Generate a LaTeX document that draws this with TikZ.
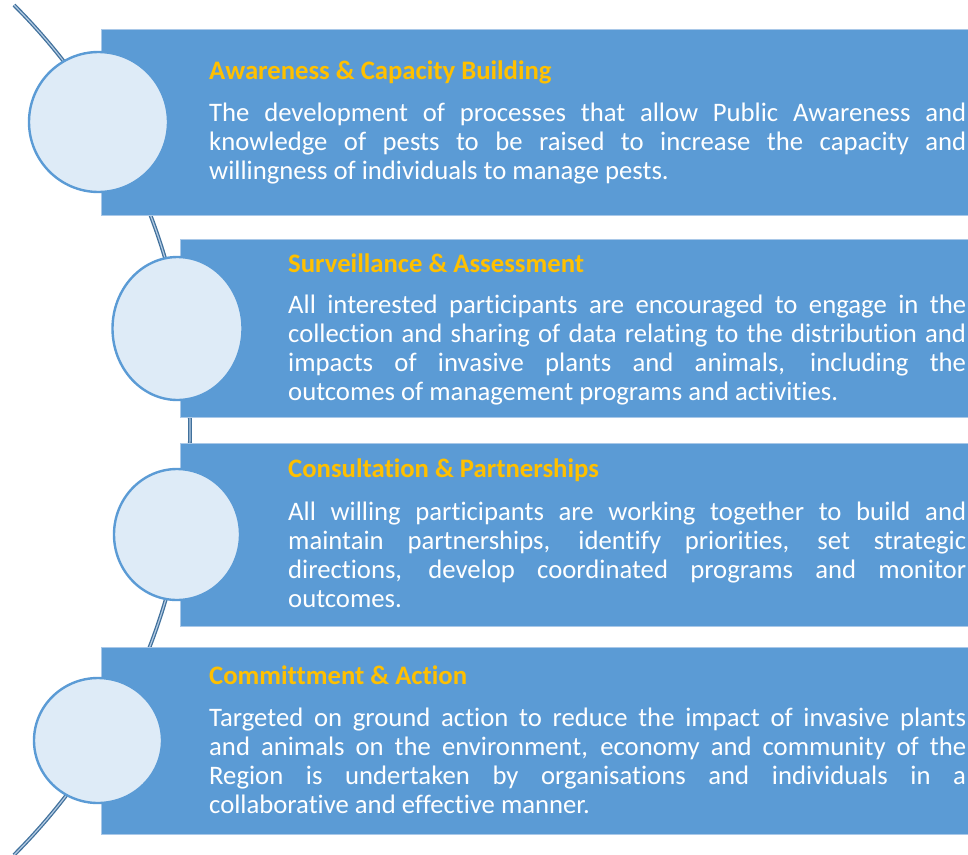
\documentclass[tikz,border=0pt]{standalone}
\usepackage{fontspec}
\setmainfont{Carlito}[Ligatures=NoCommon]
\usetikzlibrary{shapes.geometric}

\definecolor{panelblue}{HTML}{5B9BD5}
\definecolor{paneledge}{HTML}{A9C8E8}
\definecolor{discfill}{HTML}{DEEBF7}
\definecolor{spineblue}{HTML}{41719C}
\definecolor{spinemid}{HTML}{B4CBE3}
\definecolor{gold}{HTML}{FFC000}

\tikzset{
  spine/.style={draw=spineblue, line width=1.3pt, double=spinemid, double distance=1.2pt},
  panel/.style={fill=panelblue, draw=paneledge, line width=0.8pt},
  disc/.style={ellipse, draw=panelblue, line width=2.4pt, fill=discfill, inner sep=0pt},
  heading/.style={anchor=base west, inner sep=0pt, text=gold, font=\fontsize{26.7}{29}\selectfont\bfseries},
  blurb/.style={anchor=base west, inner sep=0pt, text=white, font=\fontsize{26.7}{29}\selectfont}
}

% justified paragraph, first baseline on the node anchor
\newcommand{\blurbbox}[2]{\parbox[t]{#1}{\hyphenpenalty=10000\tolerance=10000\hbadness=10000 #2}}

\begin{document}
\begin{tikzpicture}[x=1pt, y=-1pt]
        \useasboundingbox (0,0) rectangle (968,854);
        \coordinate (hub) at (-411,430);                                 % centre of the spine
        \draw [spine] (hub) ++(45:601pt) arc [start angle=45, end angle=-45, radius=601pt];

        \draw [panel] (101,29)  rectangle (969,215);                     % awareness
        \draw [panel] (180,239) rectangle (969,417);                     % surveillance
        \draw [panel] (180,443) rectangle (969,626);                     % consultation
        \draw [panel] (101,647) rectangle (969,834);                     % action

        \node [disc, minimum width=139, minimum height=140] (d1) at (98.5,122)  {};
        \node [disc, minimum width=130, minimum height=143] (d2) at (177.5,328.5) {};
        \node [disc, minimum width=126, minimum height=131] (d3) at (177,534.5) {};
        \node [disc, minimum width=128, minimum height=125] (d4) at (98,740.5)  {};

        \node [heading] (h1) at (209,79)  {Awareness \& Capacity Building};
        \node [blurb]   (b1) at (209,121) {\blurbbox{757pt}{The development of processes that allow Public Awareness and\linebreak
          knowledge of pests to be raised to increase the capacity and\linebreak
          willingness of individuals to manage pests.}};

        \node [heading] (h2) at (288,272) {Surveillance \& Assessment};
        \node [blurb]   (b2) at (288,313) {\blurbbox{678pt}{All interested participants are encouraged to engage in the\linebreak
          collection and sharing of data relating to the distribution and\linebreak
          impacts of invasive plants and animals, including the\linebreak
          outcomes of management programs and activities.}};

        \node [heading] (h3) at (288,477) {Consultation \& Partnerships};
        \node [blurb]   (b3) at (288,520) {\blurbbox{678pt}{All willing participants are working together to build and\linebreak
          maintain partnerships, identify priorities, set strategic\linebreak
          directions, develop coordinated programs and monitor\linebreak
          outcomes.}};

        \node [heading] (h4) at (209,684) {Committment \& Action};
        \node [blurb]   (b4) at (209,726) {\blurbbox{757pt}{Targeted on ground action to reduce the impact of invasive plants\linebreak
          and animals on the environment, economy and community of the\linebreak
          Region is undertaken by organisations and individuals in a\linebreak
          collaborative and effective manner.}};
      \end{tikzpicture}
\end{document}
